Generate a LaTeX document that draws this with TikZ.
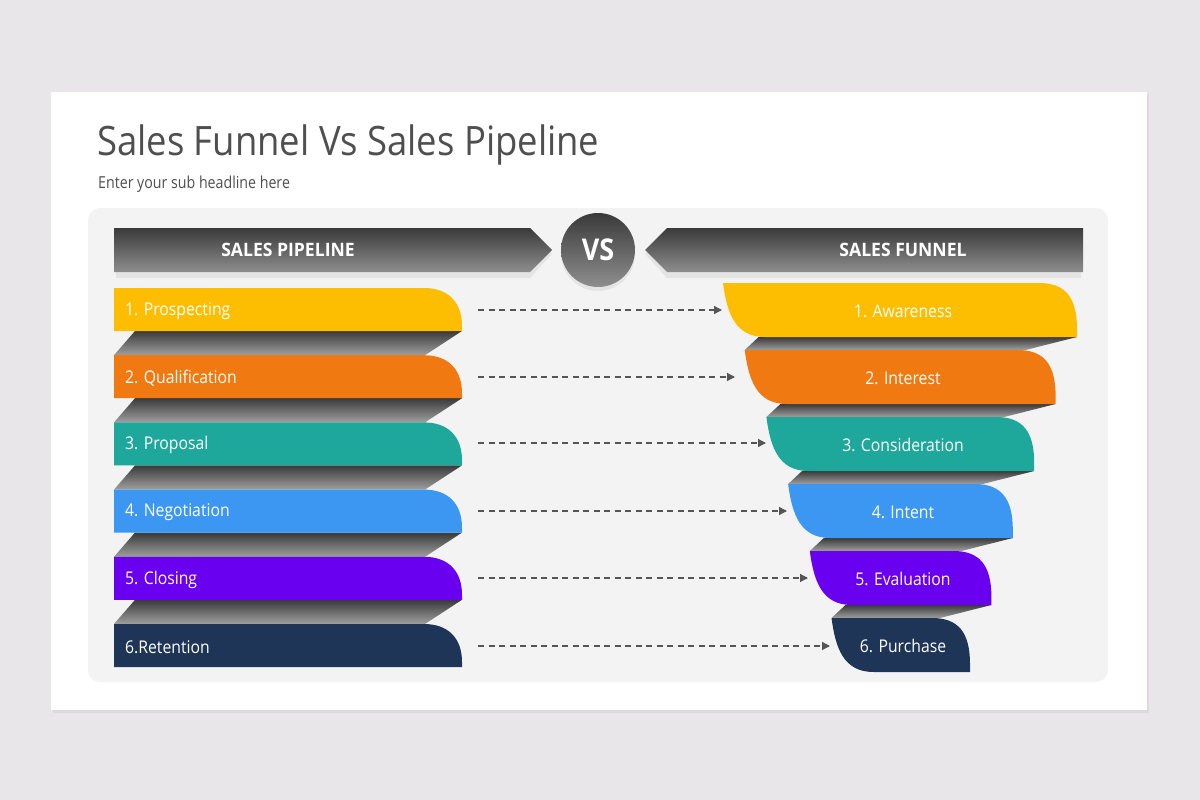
\documentclass[tikz,border=0pt]{standalone}
\usepackage{fontspec}
\setmainfont[FakeStretch=0.9]{Open Sans}
\newfontfamily\subfont[FakeStretch=0.86]{Open Sans}
\newfontfamily\hdrfont[FakeStretch=0.95]{Open Sans}
\usetikzlibrary{arrows.meta}
\definecolor{bgc}{HTML}{E8E6E8}
\definecolor{shadc}{HTML}{DCDADC}
\definecolor{panelc}{HTML}{F3F3F3}
\definecolor{titlec}{HTML}{4F4F4F}
\definecolor{hdark}{HTML}{3A3A3A}
\definecolor{hlight}{HTML}{8E8E8E}
\definecolor{arrowc}{HTML}{555555}
\definecolor{cyel}{HTML}{FDBD00}
\definecolor{corg}{HTML}{F07912}
\definecolor{ctea}{HTML}{1EA79B}
\definecolor{cblu}{HTML}{3B97F1}
\definecolor{cpur}{HTML}{6A00F0}
\definecolor{cnav}{HTML}{1F3558}
\tikzset{
  hdr/.style={top color=hdark, bottom color=hlight},
  hdrshadow/.style={fill=black, opacity=0.06},
  fold/.style={top color=hdark, bottom color=hlight!85!white},
  hdrtext/.style={text=white, font=\hdrfont\bfseries\fontsize{18.5}{22}\selectfont},
  itemtext/.style={text=white, font=\fontsize{17.5}{20}\selectfont},
  dasharrow/.style={draw=arrowc, line width=1.3pt, dash pattern=on 6pt off 4.5pt,
     -{Triangle[length=8pt,width=8pt]}},
}
\begin{document}
\begin{tikzpicture}[x=1pt,y=-1pt]
\useasboundingbox (0,0) rectangle (1200,800);
\fill[bgc] (0,0) rectangle (1200,800);
\fill[shadc] (53,94) rectangle (1149,713);
\fill[white] (51,92) rectangle (1147,710);
\fill[panelc, rounded corners=12pt] (88,208) rectangle (1108,682);
\node[anchor=base west, text=titlec, font=\fontsize{40.5}{46}\selectfont, inner sep=0pt] (title) at (97,155) {Sales Funnel Vs Sales Pipeline};
\node[anchor=base west, text=titlec, font=\subfont\fontsize{16.5}{19}\selectfont, inner sep=0pt] (sub) at (98,188) {Enter your sub headline here};
% header shadows
\fill[hdrshadow] (116,232) -- (530,232) -- (552,254) -- (530,278) -- (116,278) -- cycle;
\fill[hdrshadow] (1081,232) -- (667,232) -- (645,254) -- (667,278) -- (1081,278) -- cycle;
\fill[hdrshadow] (598,254) circle (37pt);
% headers
\shade[hdr] (114,228) -- (530,228) -- (552,250) -- (530,272) -- (114,272) -- cycle;
\shade[hdr] (1083,228) -- (667,228) -- (645,250) -- (667,272) -- (1083,272) -- cycle;
\node[hdrtext] (hpipe) at (288,250) {SALES PIPELINE};
\node[hdrtext] (hfun) at (903,250) {SALES FUNNEL};
\shade[hdr] (598,250) circle (37pt);
\node[text=white, font=\bfseries\fontsize{30}{34}\selectfont] (vs) at (598,250) {VS};
% left folds
\foreach \i in {1,...,5}{
  \pgfmathsetmacro\yb{288+67.2*(\i-1)+43}
  \pgfmathsetmacro\yn{288+67.2*\i}
  \shade[fold] (135,\yb) -- (462,\yb) -- (425,\yn) -- (114,\yn) -- cycle;
}
% left items
\foreach \i/\c/\t in {1/cyel/{1. Prospecting},2/corg/{2. Qualification},3/ctea/{3. Proposal},4/cblu/{4. Negotiation},5/cpur/{5. Closing},6/cnav/{6.Retention}}{
  \pgfmathsetmacro\yt{288+67.2*(\i-1)}
  \pgfmathsetmacro\yb{\yt+43}
  \fill[\c] (114,\yt) -- (424,\yt) .. controls (448,\yt) and (462,\yt+14) .. (462,\yb-5) -- (462,\yb) -- (114,\yb) -- cycle;
  \node[itemtext, anchor=west, inner sep=0pt] (L\i) at (125,\yt+23) {\t};
}
% right folds
\foreach \i in {1,...,5}{
  \pgfmathsetmacro\T{283+67*(\i-1)}
  \pgfmathsetmacro\B{\T+54}
  \pgfmathsetmacro\Tn{283+67*\i}
  \pgfmathsetmacro\Rk{1077-21.4*(\i-1)}
  \pgfmathsetmacro\Ln{723+21.7*\i}
  \pgfmathsetmacro\Rn{1077-21.4*\i}
  \shade[fold] (\Ln+14,\B) -- (\Rk,\B) -- (\Rn-30,\Tn) -- (\Ln,\Tn) -- cycle;
}
% right items
\foreach \i/\c/\t in {1/cyel/{1. Awareness},2/corg/{2. Interest},3/ctea/{3. Consideration},4/cblu/{4. Intent},5/cpur/{5. Evaluation},6/cnav/{6. Purchase}}{
  \pgfmathsetmacro\T{283+67*(\i-1)}
  \pgfmathsetmacro\B{\T+54}
  \pgfmathsetmacro\L{723+21.7*(\i-1)}
  \pgfmathsetmacro\R{1077-21.4*(\i-1)}
  \fill[\c] (\L,\T) -- (\R-38,\T) .. controls (\R-12,\T) and (\R,\T+14) .. (\R,\B-8) -- (\R,\B) -- (\L+42,\B) .. controls (\L+12,\B) and (\L+4,\T+30) .. (\L,\T) -- cycle;
  \node[itemtext] (R\i) at (903,\T+28) {\t};
}
% arrows
\foreach \i/\y/\e in {1/310/722,2/377/735,3/443/766,4/511/787,5/578/808,6/646/830}{
  \coordinate (as\i) at (478,\y);
  \coordinate (ae\i) at (\e,\y);
  \draw[dasharrow] (as\i) -- (ae\i);
}
\end{tikzpicture}
\end{document}
